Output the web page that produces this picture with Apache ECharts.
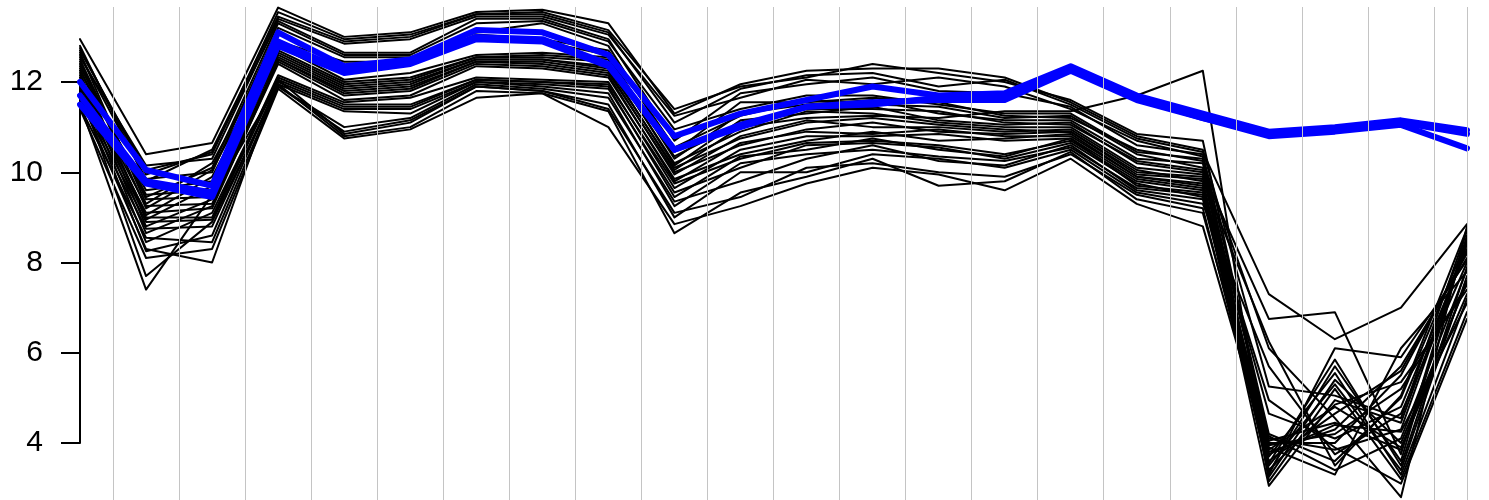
<!DOCTYPE html>
<html>
<head>
<meta charset="utf-8">
<script src="https://cdn.jsdelivr.net/npm/echarts@6/dist/echarts.min.js"></script>
<style>
html,body{margin:0;padding:0;background:#fff;}
#chart{width:1489px;height:500px;}
</style>
</head>
<body>
<div id="chart"></div>
<script>
// x positions (1..22)
const positions = [1,2,3,4,5,6,7,8,9,10,11,12,13,14,15,16,17,18,19,20,21,22];
const yTicks = [4, 6, 8, 10, 12];

const black01 = [12.95,10.4,10.65,13.65,13.0,13.1,13.55,13.6,13.3,11.3,11.95,12.25,12.3,12.3,12.1,11.55,10.8,10.5,5.25,5.05,4.55,8.7];
const black02 = [12.7,10.05,10.4,13.55,12.95,13.05,13.5,13.55,13.15,11.4,11.9,12.1,12.4,12.2,12.0,11.6,10.85,10.7,4.0,4.0,5.5,8.25];
const black03 = [12.8,9.8,10.5,13.45,12.9,13.0,13.5,13.5,13.1,11.1,11.85,12.15,12.2,11.9,12.05,11.5,10.75,10.45,7.3,6.3,7.0,8.85];
const black04 = [12.55,10.15,10.3,13.4,12.85,12.95,13.45,13.45,13.05,11.25,11.65,12.05,11.95,12.1,11.9,11.4,10.7,10.35,3.55,5.85,3.5,7.9];
const black05 = [12.75,9.95,10.45,13.35,12.65,12.65,13.4,13.4,12.95,10.7,11.75,11.95,12.1,11.8,11.75,11.45,10.6,10.4,4.2,3.6,5.0,8.5];
const black06 = [12.4,9.45,10.1,13.3,12.6,12.6,13.3,13.35,12.9,10.95,11.4,11.7,11.7,11.5,11.3,11.3,10.45,10.3,3.25,5.4,4.0,7.55];
const black07 = [12.6,9.85,10.0,13.2,12.55,12.55,13.1,13.3,12.8,10.45,11.55,11.55,11.65,11.55,11.25,11.2,10.5,10.25,6.1,4.55,2.8,8.8];
const black08 = [12.65,9.3,10.2,12.9,12.45,12.45,13.05,12.95,12.7,10.55,11.25,11.6,11.5,11.45,11.2,11.25,10.4,10.1,3.8,4.3,5.7,8.1];
const black09 = [12.25,9.6,9.8,12.85,12.3,12.4,13.0,12.9,12.6,10.3,11.3,11.5,11.6,11.3,11.15,11.15,10.3,10.2,4.1,3.85,4.3,8.4];
const black10 = [12.45,9.2,10.05,12.8,12.05,12.2,12.6,12.65,12.55,10.35,11.1,11.4,11.4,11.35,11.1,11.05,10.25,10.05,3.4,4.85,5.35,7.4];
const black11 = [12.35,9.5,9.6,12.7,12.0,12.1,12.55,12.6,12.5,10.15,11.15,11.3,11.45,11.15,11.05,11.1,10.2,10.0,6.75,6.9,3.75,8.6];
const black12 = [12.15,9.05,9.9,12.65,11.95,12.05,12.55,12.55,12.45,10.2,10.9,11.35,11.3,11.1,11.0,11.0,10.1,9.95,3.9,3.3,6.1,7.8];
const black13 = [12.5,9.4,9.45,12.6,11.9,12.0,12.5,12.5,12.35,10.05,11.0,11.2,11.25,11.2,11.35,11.35,11.7,12.25,3.15,5.2,3.2,6.9];
const black14 = [12.3,8.95,9.7,12.55,11.85,11.95,12.5,12.5,12.3,10.1,10.75,11.1,11.2,11.05,10.95,10.9,10.0,9.9,4.65,4.1,4.8,8.3];
const black15 = [12.05,9.25,9.3,12.5,11.8,11.9,12.45,12.45,12.25,9.95,10.8,11.15,11.0,11.0,10.9,10.95,10.05,9.8,3.7,5.55,3.3,7.2];
const black16 = [12.2,8.8,9.4,12.5,11.75,11.85,12.45,12.4,12.2,10.0,10.6,10.95,11.1,10.9,10.85,10.9,9.95,9.85,6.25,3.5,5.05,8.75];
const black17 = [11.95,9.1,9.2,12.45,11.7,11.8,12.4,12.35,12.15,9.8,10.65,10.9,10.85,10.95,10.8,10.8,9.9,9.75,3.3,6.1,5.9,8.05];
const black18 = [12.1,8.65,9.25,12.4,11.6,11.7,12.35,12.3,12.1,9.85,10.4,10.7,10.9,10.7,10.75,10.85,9.9,9.7,4.05,4.45,3.85,7.6];
const black19 = [11.85,9.0,9.0,12.15,11.55,11.65,12.1,12.05,12.0,9.65,10.5,10.8,10.8,10.85,10.7,10.75,9.85,9.65,3.05,4.95,4.45,8.45];
const black20 = [12.0,8.45,9.1,12.1,11.5,11.5,12.05,12.0,11.95,9.75,10.3,10.65,10.7,10.6,10.4,10.7,9.8,9.6,4.95,3.9,3.1,6.75];
const black21 = [11.7,8.9,8.95,12.05,11.45,11.45,12.05,12.0,11.9,9.45,10.35,10.5,10.75,10.5,10.35,10.75,9.7,9.55,3.6,4.65,5.6,8.2];
const black22 = [11.9,8.25,8.6,12.0,11.4,11.4,12.0,11.95,11.85,9.55,10.1,10.6,10.65,10.55,10.3,10.65,9.75,9.45,4.15,3.4,4.1,7.85];
const black23 = [11.6,8.75,8.8,11.95,11.35,11.3,12.0,11.9,11.75,9.25,10.2,10.4,10.5,10.35,10.25,10.55,9.65,9.5,3.35,5.7,3.6,8.55];
const black24 = [11.8,7.7,8.9,11.9,11.0,11.2,11.95,11.85,11.65,9.35,9.8,10.3,10.6,10.25,10.15,10.6,9.6,9.4,3.95,4.2,5.2,7.5];
const black25 = [11.45,8.55,8.45,11.9,10.9,11.15,11.9,11.8,11.5,9.0,10.0,10.0,10.4,10.3,10.1,10.5,9.55,9.3,5.7,3.75,4.65,8.0];
const black26 = [11.65,8.3,8.0,12.05,10.85,11.1,11.9,11.8,11.4,9.1,9.45,10.1,10.2,10.0,9.9,10.4,9.5,9.2,3.5,5.3,3.4,7.7];
const black27 = [11.5,7.4,9.5,11.95,10.8,11.0,11.8,11.75,11.35,8.65,9.55,9.9,10.3,9.7,9.8,10.45,9.4,9.1,3.85,4.8,3.9,7.3];
const black28 = [11.4,8.1,8.3,11.85,10.75,10.95,11.65,11.75,11.0,8.85,9.25,9.75,10.1,9.95,9.6,10.3,9.3,8.8,3.75,4.4,4.25,7.1];

const blue01 = [12.0,10.05,9.7,13.1,12.35,12.5,13.15,13.1,12.6,10.8,11.3,11.6,11.9,11.7,11.75,12.35,11.7,11.3,10.9,11.0,11.15,10.93];
const blue02 = [11.7,9.8,9.55,12.9,12.25,12.45,13.0,12.95,12.4,10.5,11.05,11.45,11.5,11.65,11.65,12.28,11.65,11.2,10.85,10.95,11.1,10.85];
const blue03 = [11.5,9.75,9.45,12.8,12.2,12.4,12.95,12.9,12.35,10.5,11.0,11.45,11.55,11.6,11.6,12.25,11.6,11.2,10.8,10.9,11.05,10.53];

const blackLines = [black01,black02,black03,black04,black05,black06,black07,black08,black09,black10,
  black11,black12,black13,black14,black15,black16,black17,black18,black19,black20,
  black21,black22,black23,black24,black25,black26,black27,black28];
const blueLines = [blue01, blue02, blue03];

const chart = echarts.init(document.getElementById('chart'), null, {renderer: 'canvas'});

function toPoints(vals) { return vals.map((v, i) => [positions[i], v]); }

// vertical separators halfway between positions, plus one at the last position
const sepValues = [];
for (let i = 0; i < positions.length - 1; i++) sepValues.push((positions[i] + positions[i + 1]) / 2);
sepValues.push(positions[positions.length - 1]);

const series = [];
series.push({
  type: 'line', xAxisIndex: 0, yAxisIndex: 0, data: [], z: 1, silent: true,
  markLine: {
    silent: true, symbol: ['none', 'none'], animation: false,
    label: {show: false},
    lineStyle: {color: '#c4c4c4', width: 1, type: 'solid'},
    emphasis: {disabled: true},
    data: sepValues.map(v => ({xAxis: v}))
  }
});
blackLines.forEach(vals => series.push({
  type: 'line', xAxisIndex: 0, yAxisIndex: 0, data: toPoints(vals),
  showSymbol: false, symbol: 'none', silent: true, clip: false, z: 2,
  lineStyle: {color: '#000000', width: 2, cap: 'round', join: 'round'}
}));
blueLines.forEach(vals => series.push({
  type: 'line', xAxisIndex: 0, yAxisIndex: 0, data: toPoints(vals),
  showSymbol: false, symbol: 'none', silent: true, clip: false, z: 3,
  lineStyle: {color: '#0000ff', width: 6, cap: 'round', join: 'round'}
}));
series.push({type: 'line', xAxisIndex: 1, yAxisIndex: 1, data: [], silent: true});

chart.setOption({
  animation: false,
  backgroundColor: '#ffffff',
  grid: [
    {left: 80, right: 22, top: 7, bottom: 0},
    {left: 80, right: 22, top: 82, bottom: 57}
  ],
  xAxis: [
    {type: 'value', gridIndex: 0, min: 1, max: 22, show: false},
    {type: 'value', gridIndex: 1, min: 1, max: 22, show: false}
  ],
  yAxis: [
    {type: 'value', gridIndex: 0, min: 2.737, max: 13.662, show: false},
    {type: 'value', gridIndex: 1, min: yTicks[0], max: yTicks[yTicks.length - 1], interval: 2,
     axisLine: {show: true, lineStyle: {color: '#000', width: 2}},
     axisTick: {show: true, inside: false, length: 19, lineStyle: {color: '#000', width: 2}},
     splitLine: {show: false},
     axisLabel: {show: true, color: '#000', fontSize: 30, margin: 37,
       fontFamily: 'Liberation Sans, Arial, sans-serif'}
    }
  ],
  series: series
});
</script>
</body>
</html>
